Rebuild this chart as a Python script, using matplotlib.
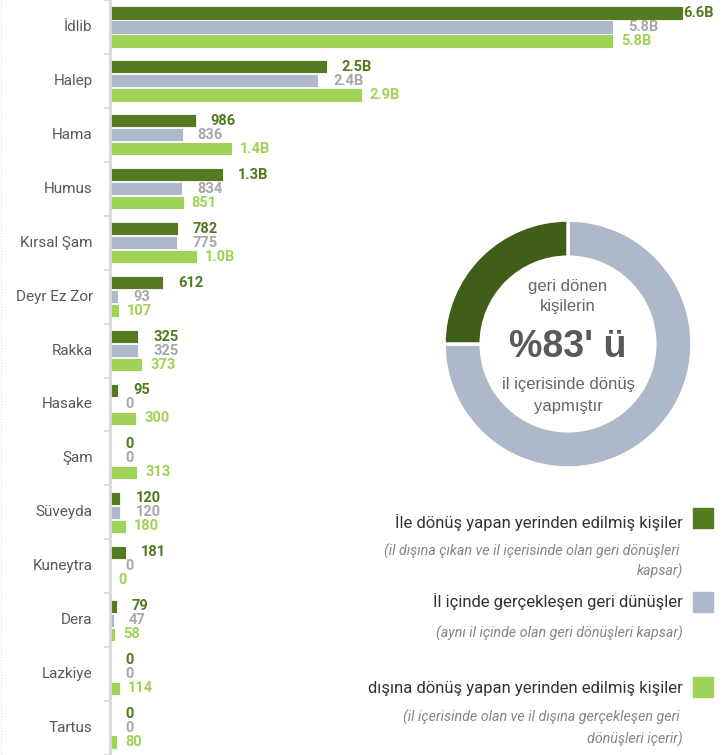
import numpy as np
import matplotlib.pyplot as plt

# --- Daten ---
provinces = ["İdlib", "Halep", "Hama", "Humus", "Kırsal Şam", "Deyr Ez Zor", "Rakka",
             "Hasake", "Şam", "Süveyda", "Kuneytra", "Dera", "Lazkiye", "Tartus"]
returned_total = [6600, 2500, 986, 1300, 782, 612, 325, 95, 0, 120, 181, 79, 0, 0]
within_province = [5800, 2400, 836, 834, 775, 93, 325, 0, 0, 120, 0, 47, 0, 0]
from_outside = [5800, 2900, 1400, 851, 1000, 107, 373, 300, 313, 180, 0, 58, 114, 80]
donut_shares = [75, 25]  # grau, dunkelgrün (wie im Bild gezeichnet)

series_names = ["İle dönüş yapan yerinden edilmiş kişiler",
                "İl içinde gerçekleşen geri dünüşler",
                "dışına dönüş yapan yerinden edilmiş kişiler"]
series_notes = [["(il dışına çıkan ve il içerisinde olan geri dönüşleri ", "kapsar)"],
                ["(aynı il içinde olan geri dönüşleri kapsar)"],
                ["(il içerisinde olan ve il dışına gerçekleşen geri ", "dönüşleri içerir)"]]

bar_colors = ["#557a1f", "#adb8cb", "#a0d456"]
label_colors = ["#4e7a1e", "#a8a8a8", "#9fd356"]
label_pad = [15, 15, 8]  # Abstand Balkenende -> Beschriftung in Pixel

W, H = 725, 755
fig = plt.figure(figsize=(W / 100, H / 100), dpi=100)

def fx(px):
    return px / W

def fy(py):
    return 1 - py / H

# --- Balkendiagramm ---
ax = fig.add_axes([fx(110), 0, fx(W - 110), 1])
y = np.arange(len(provinces))
h = 0.245
offsets = [-0.26, 0, 0.26]
for vals, off, col, lcol, pad in zip([returned_total, within_province, from_outside],
                                     offsets, bar_colors, label_colors, label_pad):
    bars = ax.barh(y + off, vals, height=h, color=col, edgecolor="white", linewidth=0.6)
    for b, v in zip(bars, vals):
        txt = f"{v / 1000:.1f}B" if v >= 1000 else f"{v}"
        p = pad if v < 6000 else 0  # am rechten Rand kein Abstand
        ax.annotate(txt, (b.get_width(), b.get_y() + b.get_height() / 2),
                    xytext=(p * 0.72, 0), textcoords="offset points",
                    ha="left", va="center", fontsize=10.5, fontweight="bold",
                    color=lcol, family="Roboto")

ax.set_xlim(0, (W - 110) / 0.0868)
ax.set_ylim(len(provinces) - 0.5, -0.5)
for s in ["top", "right", "bottom"]:
    ax.spines[s].set_visible(False)
ax.spines["left"].set_color("#d9d9d9")
ax.spines["left"].set_linewidth(2)
ax.set_xticks([])
ax.set_yticks(np.arange(len(provinces) + 1) - 0.5)
ax.set_yticklabels([])
ax.tick_params(axis="y", length=4, width=1.2, color="#d9d9d9")

# Kategorienbeschriftungen
for i, name in enumerate(provinces):
    ax.annotate(name, (0, i), xycoords=("axes fraction", "data"), xytext=(-12.5, 0),
                textcoords="offset points", ha="right", va="center",
                fontsize=11, color="#595959", family="Roboto")

# gepunktete Linie am linken Rand
fig.add_artist(plt.Line2D([fx(1), fx(1)], [0, 1], color="#e0e0e0", lw=0.8, ls=":"))

# --- Donut ---
cx, cy, r = 568, 344, 124
dax = fig.add_axes([fx(cx - r), fy(cy + r), fx(2 * r), 2 * r / H])
dax.pie(donut_shares, colors=["#adb8cb", "#3f5f19"], startangle=90, counterclock=False,
        radius=1, wedgeprops=dict(width=0.3, edgecolor="white", linewidth=2.5))
dax.set_xlim(-1, 1)
dax.set_ylim(-1, 1)
dax.set_aspect("auto")
dax.axis("off")

small = dict(ha="center", va="center", fontsize=12, color="#666666", family="Liberation Sans")
fig.text(fx(cx), fy(286), "geri dönen", **small)
fig.text(fx(cx), fy(307), "kişilerin", **small)
fig.text(fx(cx), fy(347), "%83' ü", ha="center", va="center", fontsize=27,
         fontweight="bold", color="#595959", family="Liberation Sans")
fig.text(fx(cx), fy(384), "il içerisinde dönüş", **small)
fig.text(fx(cx), fy(406), "yapmıştır", **small)

# --- Legende ---
square_y = [518, 602, 687]
name_y = [522, 601, 689]
note_y = [[551, 571], [633], [717, 739]]
for i in range(3):
    fig.patches.append(plt.Rectangle((fx(693), fy(square_y[i] + 10)), fx(20), 20 / H,
                                     transform=fig.transFigure, color=bar_colors[i]))
    fig.text(fx(683), fy(name_y[i]), series_names[i], ha="right", va="center",
             fontsize=12, color="#333333", family="Roboto")
    for line, ly in zip(series_notes[i], note_y[i]):
        fig.text(fx(683), fy(ly), line, ha="right", va="center", fontsize=10.3,
                 style="italic", color="#858585", family="Roboto")

fig.savefig("out.png", dpi=100)
